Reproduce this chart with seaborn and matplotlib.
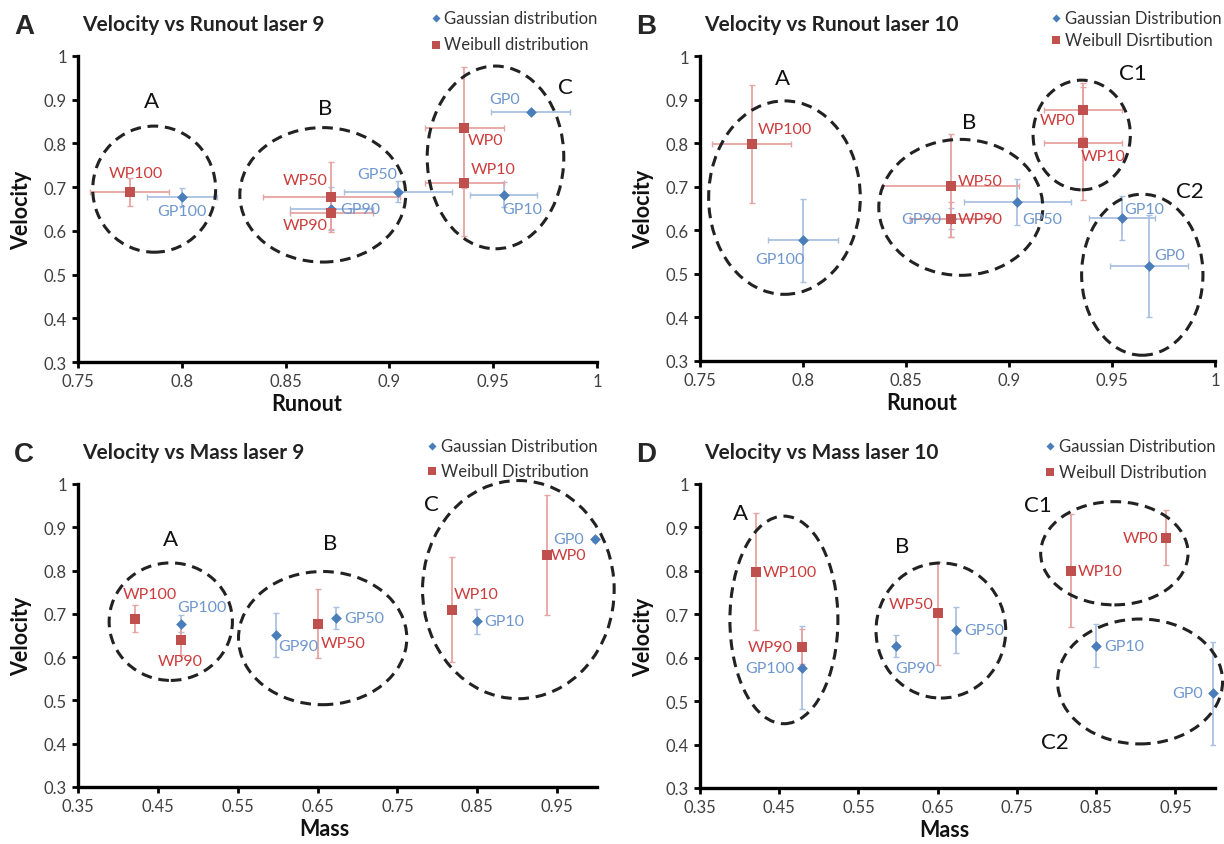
import numpy as np
import pandas as pd
import matplotlib
matplotlib.use("Agg")
import matplotlib.pyplot as plt
import seaborn as sns
from matplotlib.patches import Ellipse

# ---------------- data ----------------
gauss_labels = ["GP0", "GP10", "GP50", "GP90", "GP100"]
weib_labels = ["WP0", "WP10", "WP50", "WP90", "WP100"]

gauss_runout = [0.968, 0.955, 0.904, 0.872, 0.800]
gauss_runout_err = [0.019, 0.016, 0.026, 0.020, 0.017]
weib_runout = [0.936, 0.936, 0.872, 0.872, 0.775]
weib_runout_err = [0.019, 0.019, 0.033, 0.020, 0.019]

gauss_mass = [0.997, 0.850, 0.673, 0.598, 0.479]
weib_mass = [0.938, 0.818, 0.650, 0.479, 0.421]

gauss_vel_l9 = [0.872, 0.683, 0.690, 0.651, 0.677]
gauss_vel_l9_err = [0.005, 0.029, 0.025, 0.050, 0.020]
weib_vel_l9 = [0.836, 0.710, 0.677, 0.640, 0.689]
weib_vel_l9_err = [0.138, 0.122, 0.080, 0.035, 0.032]

gauss_vel_l10 = [0.518, 0.628, 0.664, 0.627, 0.577]
gauss_vel_l10_err = [0.118, 0.050, 0.053, 0.025, 0.095]
weib_vel_l10 = [0.876, 0.800, 0.702, 0.625, 0.798]
weib_vel_l10_err = [0.063, 0.130, 0.118, 0.040, 0.135]

# ---------------- style ----------------
sns.set_theme(style="white")
plt.rcParams["font.family"] = ["Lato", "DejaVu Sans"]

G_MARK = "#4a7ebb"
G_ERR = "#a9c1e0"
G_TXT = "#6f97cf"
W_MARK = "#c0504d"
W_ERR = "#e6a4a3"
W_TXT = "#cc3c3c"

fig = plt.figure(figsize=(12.24, 8.45), dpi=100)
W, H = 1224, 845


def px_axes(l, t, r, b):
    return fig.add_axes([l / W, 1 - b / H, (r - l) / W, (b - t) / H])


panels = [
    dict(rect=(78, 57, 597, 363), letter="A", title="Velocity vs Runout laser 9",
         gx=gauss_runout, gxe=gauss_runout_err, wx=weib_runout, wxe=weib_runout_err,
         gy=gauss_vel_l9, gye=gauss_vel_l9_err, wy=weib_vel_l9, wye=weib_vel_l9_err,
         xlim=(0.75, 1.0), xticks=np.arange(0.75, 1.001, 0.05), xlabel="Runout", xlc=0.44,
         leg=("Gaussian distribution", "Weibull distribution"), legx=1.0135, legsp=0.65,
         goff=[(-26, 13), (19, -14), (-20, 18), (29, 0), (0, -14)],
         woff=[(21, -12), (29, 14), (-26, 17), (-26, -12), (6, 19)],
         ell=[(0.7867, 0.6954, 0.0592, 0.2885), (0.8679, 0.6824, 0.0799, 0.3076),
              (0.9511, 0.768, 0.0658, 0.418)],
         glab=[("A", 0.7853, 0.897), ("B", 0.869, 0.882), ("C", 0.985, 0.93)]),
    dict(rect=(700, 57, 1215, 362), letter="B", title="Velocity vs Runout laser 10",
         gx=gauss_runout, gxe=gauss_runout_err, wx=weib_runout, wxe=weib_runout_err,
         gy=gauss_vel_l10, gye=gauss_vel_l10_err, wy=weib_vel_l10, wye=weib_vel_l10_err,
         xlim=(0.75, 1.0), xticks=np.arange(0.75, 1.001, 0.05), xlabel="Runout", xlc=0.43,
         leg=("Gaussian Distribution", "Weibull Disrtibution"), legx=1.025, legsp=0.35,
         goff=[(21, 11), (22, 9), (25, -17), (-30, 0), (-23, -19)],
         woff=[(-26, -10), (20, -13), (29, 5), (29, 0), (33, 15)],
         ell=[(0.791, 0.675, 0.0736, 0.444), (0.8766, 0.6526, 0.0796, 0.312),
              (0.9353, 0.8187, 0.0472, 0.2517), (0.9647, 0.498, 0.0589, 0.3696)],
         glab=[("A", 0.79, 0.95), ("B", 0.8806, 0.849), ("C1", 0.96, 0.962), ("C2", 0.988, 0.69)]),
    dict(rect=(78, 485, 597, 788), letter="C", title="Velocity vs Mass laser 9",
         gx=gauss_mass, gxe=None, wx=weib_mass, wxe=None,
         gy=gauss_vel_l9, gye=gauss_vel_l9_err, wy=weib_vel_l9, wye=weib_vel_l9_err,
         xlim=(0.35, 1.0), xticks=np.arange(0.35, 0.96, 0.1), xlabel="Mass", xlc=0.474,
         leg=("Gaussian Distribution", "Weibull Distribution"), legx=1.0135, legsp=0.55,
         goff=[(-26, 0), (27, 0), (28, 0), (22, -11), (21, 17)],
         woff=[(21, 0), (25, 16), (26, -19), (-1, -21), (15, 25)],
         ell=[(0.4662, 0.682, 0.1544, 0.2715), (0.6564, 0.644, 0.2108, 0.3077),
              (0.9015, 0.756, 0.240, 0.504)],
         glab=[("A", 0.466, 0.873), ("B", 0.666, 0.864), ("C", 0.7926, 0.954)]),
    dict(rect=(700, 485, 1215, 789), letter="D", title="Velocity vs Mass laser 10",
         gx=gauss_mass, gxe=None, wx=weib_mass, wxe=None,
         gy=gauss_vel_l10, gye=gauss_vel_l10_err, wy=weib_vel_l10, wye=weib_vel_l10_err,
         xlim=(0.35, 1.0), xticks=np.arange(0.35, 0.96, 0.1), xlabel="Mass", xlc=0.474,
         leg=("Gaussian Distribution", "Weibull Distribution"), legx=1.0136, legsp=0.6,
         goff=[(-25, 0), (28, 0), (28, 0), (19, -22), (-32, 0)],
         woff=[(-25, 0), (29, 0), (-27, 9), (-32, 0), (34, 0)],
         ell=[(0.4559, 0.687, 0.1363, 0.478), (0.654, 0.6626, 0.1637, 0.311),
              (0.873, 0.8405, 0.186, 0.2377), (0.9054, 0.5453, 0.2083, 0.2876)],
         glab=[("A", 0.4015, 0.933), ("B", 0.605, 0.858), ("C1", 0.7765, 0.952), ("C2", 0.7985, 0.407)]),
]

for p in panels:
    l, t, r, b = p["rect"]
    ax = px_axes(l, t, r, b)
    gdf = pd.DataFrame({"x": p["gx"], "y": p["gy"], "label": gauss_labels})
    wdf = pd.DataFrame({"x": p["wx"], "y": p["wy"], "label": weib_labels})

    ax.errorbar(gdf["x"], gdf["y"], xerr=p["gxe"], yerr=p["gye"], fmt="none",
                ecolor=G_ERR, elinewidth=1.3, capsize=2, capthick=1.0, zorder=1)
    ax.errorbar(wdf["x"], wdf["y"], xerr=p["wxe"], yerr=p["wye"], fmt="none",
                ecolor=W_ERR, elinewidth=1.3, capsize=2, capthick=1.0, zorder=1)
    sns.scatterplot(data=gdf, x="x", y="y", ax=ax, marker="D", s=30, color=G_MARK,
                    edgecolor=G_MARK, linewidth=0, label=p["leg"][0], zorder=3, clip_on=False)
    sns.scatterplot(data=wdf, x="x", y="y", ax=ax, marker="s", s=60, color=W_MARK,
                    edgecolor=W_MARK, linewidth=0, label=p["leg"][1], zorder=4, clip_on=False)

    for (xv, yv, lab), off in zip(gdf.itertuples(index=False), p["goff"]):
        ax.annotate(lab, (xv, yv), xytext=off, textcoords="offset pixels",
                    ha="center", va="center", fontsize=11.5, color=G_TXT, zorder=5)
    for (xv, yv, lab), off in zip(wdf.itertuples(index=False), p["woff"]):
        ax.annotate(lab, (xv, yv), xytext=off, textcoords="offset pixels",
                    ha="center", va="center", fontsize=11.5, color=W_TXT, zorder=5)

    for cx, cy, ew, eh in p["ell"]:
        ax.add_patch(Ellipse((cx, cy), ew, eh, fill=False, edgecolor="#222222",
                             lw=2.2, linestyle=(0, (3.5, 2.2)), zorder=2, clip_on=False))
    for txt, tx, ty in p["glab"]:
        ax.text(tx, ty, txt, ha="center", va="center", fontsize=16, color="#111111")

    ax.set_xlim(*p["xlim"])
    ax.set_ylim(0.3, 1.0)
    ax.set_xticks(p["xticks"])
    ax.set_xticklabels([f"{v:g}" for v in np.round(p["xticks"], 2)])
    yt = np.round(np.arange(0.3, 1.001, 0.1), 1)
    ax.set_yticks(yt)
    ax.set_yticklabels([f"{v:g}" for v in yt])
    ax.tick_params(axis="both", which="major", direction="out", length=4, width=2,
                   color="black", labelsize=12, labelcolor="#404040", pad=4,
                   bottom=True, left=True)
    for s in ["top", "right"]:
        ax.spines[s].set_visible(False)
    for s in ["left", "bottom"]:
        ax.spines[s].set_linewidth(2.4)
        ax.spines[s].set_color("black")
    ax.set_xlabel(p["xlabel"], fontsize=15.5, fontweight="bold", color="#111111")
    ax.set_ylabel("Velocity", fontsize=15.5, fontweight="bold", color="#111111")
    ax.xaxis.set_label_coords(p["xlc"], -31 / (b - t))
    ax.yaxis.set_label_coords(-46 / (r - l), 0.5)

    leg = ax.legend(loc="upper right", bbox_to_anchor=(p["legx"], 1.0 + 53 / (b - t)),
                    frameon=False, fontsize=12, handletextpad=0.05, labelspacing=p["legsp"],
                    borderaxespad=0, handlelength=0.9, markerscale=0.75)
    for txt in leg.get_texts():
        txt.set_color("#333333")

    fig.text((l - 54) / W, 1 - (t - 30) / H, p["letter"], fontsize=20, fontweight="bold",
             family=["Liberation Sans", "DejaVu Sans"], ha="center", va="center")
    fig.text((l + 4) / W, 1 - (t - 32) / H, p["title"], fontsize=15, fontweight="bold",
             ha="left", va="center", color="#222222")

fig.savefig("out.png", dpi=100)
